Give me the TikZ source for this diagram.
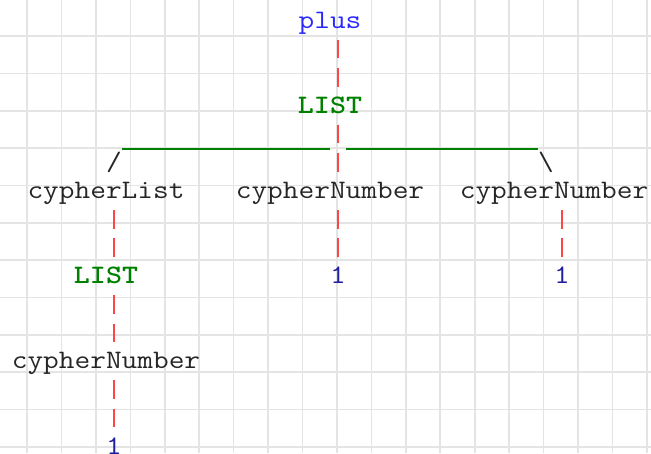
\documentclass[tikz,border=0pt]{standalone}
\usepackage{fontspec}
\setmonofont{Latin Modern Mono}[FakeStretch=1.143]
\newfontfamily\kwfont{lmmonolt10-bold.otf}[FakeStretch=1.143]
\definecolor{linkred}{RGB}{255,70,70}
\definecolor{listgreen}{RGB}{0,128,0}
\definecolor{numblue}{RGB}{30,30,160}
\definecolor{opblue}{RGB}{40,40,255}
\definecolor{paper}{RGB}{228,228,228}
\newcommand{\treefont}{\ttfamily\fontsize{26.67}{28.4}\selectfont}

\begin{document}
\begin{tikzpicture}[
  x=1pt, y=-1pt,
  every node/.style={font=\treefont, inner sep=0pt, anchor=base,
                     text height=17pt, text depth=11.4pt, text=black!85},
  kw/.style={font=\kwfont\fontsize{26.67}{28.4}\selectfont, text=listgreen},
  num/.style={text=numblue},
  link/.style={linkred, line width=1.3pt, dash pattern=on 18.5pt off 9.9pt},
  bar/.style={listgreen, line width=2.6pt}
]
\useasboundingbox (0,0) rectangle (651,453);

% Squared paper
\foreach \i in {0,...,18}
  \draw[paper, line width=1.6pt] ({27+34.44*\i},0) -- ({27+34.44*\i},453);
\foreach \j in {0,...,11}
  \draw[paper, line width=1.6pt] (0,{36+37.36*\j}) -- (651,{36+37.36*\j});

% Root and its argument list
\node[text=opblue] (plus) at (330,28) {plus};
\node[kw] (list) at (330,113.2) {LIST};

% Bracket over the three elements
\coordinate (barA) at (122,149);
\coordinate (barB) at (330,149);
\coordinate (barC) at (346,149);
\coordinate (barD) at (538,149);
\draw[bar] (barA) -- (barB);
\draw[bar] (barC) -- (barD);
\node (lslash) at (114,170) {/};
\node (rslash) at (546,170) {\textbackslash};

% Elements
\node (clist) at (106,198.4) {cypherList};
\node (cnumA) at (330,198.4) {cypherNumber};
\node (cnumB) at (554,198.4) {cypherNumber};

\node[kw] (sublist) at (106,283.6) {LIST};
\node[num] (oneA) at (338,283.6) {1};
\node[num] (oneB) at (562,283.6) {1};

\node (cnumC) at (106,368.8) {cypherNumber};
\node[num] (oneC) at (114,454) {1};

% Links
\draw[link] ([xshift=8pt]plus.south) -- ([xshift=8pt]list.north);
\draw[link] ([xshift=8pt]list.south) -- ([xshift=8pt]cnumA.north);
\draw[link] ([xshift=8pt]cnumA.south) -- (oneA.north);
\draw[link] ([xshift=8pt]cnumB.south) -- (oneB.north);
\draw[link] ([xshift=8pt]clist.south) -- ([xshift=8pt]sublist.north);
\draw[link] ([xshift=8pt]sublist.south) -- ([xshift=8pt]cnumC.north);
\draw[link] ([xshift=8pt]cnumC.south) -- (oneC.north);

\end{tikzpicture}
\end{document}
